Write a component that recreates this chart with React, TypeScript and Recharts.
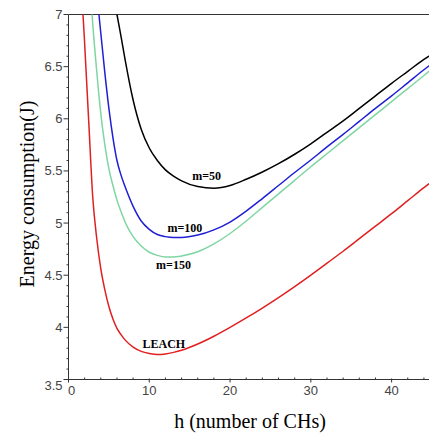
import React from "react";
import { LineChart, Line, XAxis, YAxis, ReferenceLine, ReferenceDot } from "recharts";

// h values (number of cluster heads) shared by every curve
const hValues = [1, 1.5, 2, 2.5, 3, 3.5, 4, 4.5, 5, 5.5, 6, 6.5, 7, 8, 9, 10, 11, 12, 13, 14, 16, 18, 20, 22, 24, 26, 28, 30, 32, 34, 36, 38, 40, 42, 44, 45];

// energy consumption (J); values above 7 are off the chart
const leachValues = [9.0, 7.5, 6.72, 5.98, 5.25, 4.85, 4.56, 4.36, 4.2, 4.08, 3.99, 3.93, 3.88, 3.81, 3.77, 3.75, 3.74, 3.745, 3.76, 3.78, 3.84, 3.915, 4.0, 4.09, 4.185, 4.285, 4.39, 4.5, 4.615, 4.73, 4.85, 4.97, 5.09, 5.215, 5.34, 5.4];
const m150Values = [12, 9.4, 8.2, 7.5, 6.91, 6.45, 6.05, 5.75, 5.52, 5.36, 5.22, 5.11, 5.01, 4.87, 4.78, 4.72, 4.69, 4.675, 4.675, 4.685, 4.725, 4.8, 4.9, 5.02, 5.15, 5.28, 5.41, 5.54, 5.665, 5.79, 5.915, 6.04, 6.165, 6.29, 6.415, 6.48];
const m100Values = [14, 11.5, 10, 8.9, 7.95, 7.25, 6.82, 6.44, 6.1, 5.82, 5.6, 5.46, 5.35, 5.16, 5.02, 4.94, 4.89, 4.87, 4.862, 4.862, 4.885, 4.935, 5.01, 5.115, 5.235, 5.36, 5.485, 5.605, 5.73, 5.85, 5.975, 6.1, 6.22, 6.345, 6.47, 6.53];
const m50Values = [12, 11, 10.2, 9.5, 8.9, 8.4, 8.0, 7.7, 7.45, 7.22, 7.0, 6.79, 6.57, 6.18, 5.9, 5.72, 5.6, 5.51, 5.45, 5.405, 5.35, 5.335, 5.36, 5.42, 5.49, 5.57, 5.66, 5.76, 5.87, 5.98, 6.1, 6.22, 6.34, 6.455, 6.57, 6.62];

const xMajorTicks = [0, 10, 20, 30, 40];
const yMajorTicks = [3.5, 4, 4.5, 5, 5.5, 6, 6.5, 7];

// curve annotations, placed in data coordinates
const curveLabels = [
  { text: "m=50", h: 17.1, e: 5.45 },
  { text: "m=100", h: 14.4, e: 4.96 },
  { text: "m=150", h: 13.0, e: 4.6 },
  { text: "LEACH", h: 11.8, e: 3.84 },
];

const data = hValues.map((h, i) => ({
  h,
  leach: leachValues[i],
  m150: m150Values[i],
  m100: m100Values[i],
  m50: m50Values[i],
}));

const xTicks = Array.from({ length: 23 }, (_, i) => i * 2);
const yTicks = Array.from({ length: 36 }, (_, i) => Math.round((3.5 + i * 0.1) * 10) / 10);

const axisColor = "#333";
const tickFont = "'Liberation Sans', Arial, sans-serif";
const serifFont = "'Liberation Serif', 'Times New Roman', serif";

const XTick = (props: any) => {
  const { x, y, payload } = props;
  const major = xMajorTicks.includes(payload.value);
  return (
    <g>
      {major ? (
        <line x1={x} x2={x} y1={y - 1} y2={y + 3} stroke={axisColor} />
      ) : (
        <line x1={x} x2={x} y1={y} y2={y - 2} stroke={axisColor} />
      )}
      {major && (
        <text x={x + (payload.value === 0 ? 3 : 0)} y={y + 15} textAnchor="middle" fill="#444" style={{ fontFamily: tickFont, fontSize: 13 }}>
          {payload.value}
        </text>
      )}
    </g>
  );
};

const YTick = (props: any) => {
  const { x, y, payload } = props;
  const major = yMajorTicks.includes(payload.value);
  return (
    <g>
      <line x1={x} x2={x - (major ? 5 : 2)} y1={y} y2={y} stroke={axisColor} />
      {major && (
        <text x={x - 6} y={y + (payload.value === 3.5 ? 6 : 0)} dy="0.35em" textAnchor="end" fill="#444" style={{ fontFamily: tickFont, fontSize: 13 }}>
          {payload.value}
        </text>
      )}
    </g>
  );
};

const titleStyle: React.CSSProperties = {
  position: "absolute",
  whiteSpace: "nowrap",
  fontFamily: serifFont,
  fontSize: 20,
  color: "#000",
  lineHeight: "20px",
};

export default function App() {
  return (
    <div style={{ position: "absolute", left: 0, top: 0, width: 429, height: 434, overflow: "hidden", background: "#fff" }}>
      <LineChart width={440} height={434} data={data} margin={{ top: 14.5, right: 8, bottom: 0, left: 0 }}>
        <XAxis
          dataKey="h"
          type="number"
          domain={[0, 45]}
          allowDataOverflow
          ticks={xTicks}
          interval={0}
          tickSize={0}
          tickMargin={0}
          tick={<XTick />}
          tickLine={false}
          axisLine={{ stroke: axisColor }}
          height={54.5}
        />
        <YAxis
          type="number"
          domain={[3.5, 7]}
          allowDataOverflow
          ticks={yTicks}
          interval={0}
          tickSize={0}
          tickMargin={0}
          tick={<YTick />}
          tickLine={false}
          axisLine={{ stroke: axisColor }}
          width={68.5}
        />
        <ReferenceLine y={7} stroke={axisColor} />
        <Line type="monotone" dataKey="leach" stroke="#e02020" strokeWidth={1.5} dot={false} isAnimationActive={false} />
        <Line type="monotone" dataKey="m150" stroke="#7fd6a2" strokeWidth={1.5} dot={false} isAnimationActive={false} />
        <Line type="monotone" dataKey="m100" stroke="#1f1fd6" strokeWidth={1.5} dot={false} isAnimationActive={false} />
        <Line type="monotone" dataKey="m50" stroke="#000" strokeWidth={1.5} dot={false} isAnimationActive={false} />
        {curveLabels.map((c) => (
          <ReferenceDot
            key={c.text}
            x={c.h}
            y={c.e}
            r={0}
            fill="none"
            stroke="none"
            label={{ value: c.text, position: "center", fontSize: 12, fontWeight: "bold", fontFamily: serifFont, fill: "#000" }}
          />
        ))}
      </LineChart>
      <div style={{ ...titleStyle, left: 250, top: 421, transform: "translate(-50%, -50%)" }}>h (number of CHs)</div>
      <div style={{ ...titleStyle, left: 27, top: 194, transform: "translate(-50%, -50%) rotate(-90deg)" }}>Energy consumption(J)</div>
    </div>
  );
}
